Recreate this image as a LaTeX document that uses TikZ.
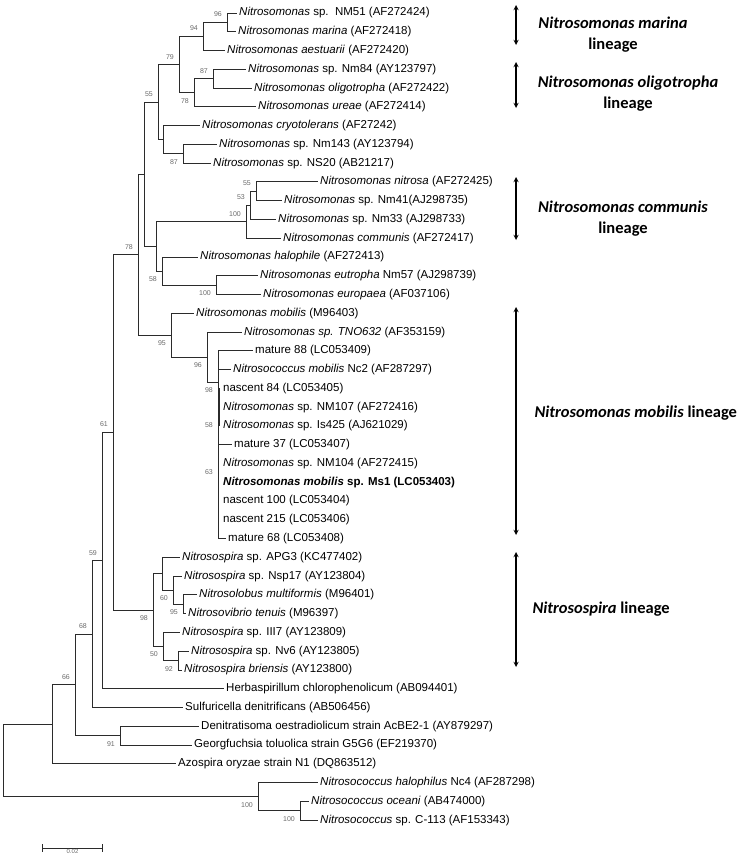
\documentclass[tikz,border=0pt]{standalone}
\usepackage{fontspec}
\setmainfont{Liberation Sans}
\newfontfamily\lineagefont{Carlito}
\usepackage{xcolor}
\usepackage{tikz}
\usetikzlibrary{arrows,positioning,calc}
\definecolor{branchgray}{HTML}{2B2B2B}
\definecolor{bootgray}{HTML}{6A6A6A}

\begin{document}
\begin{tikzpicture}[
  x=1pt, y=-1pt,
  branch/.style={draw=branchgray, line width=0.9pt},
  leaf/.style={anchor=west, inner xsep=2.5pt, inner ysep=0pt, font=\fontsize{11.5}{12}\selectfont},
  zleaf/.style={leaf, inner xsep=5pt},
  bsbase/.style={anchor=east, inner sep=0pt, text=bootgray, font=\fontsize{7}{7}\selectfont},
  bsup/.style={bsbase, xshift=-5pt, yshift=8pt},
  bsdown/.style={bsbase, xshift=-5pt, yshift=-8pt},
  lineage/.style={align=center, font=\lineagefont\bfseries\fontsize{16.5}{21}\selectfont},
  span/.style={<->, >=stealth, line width=1.3pt}
]
\useasboundingbox (0,0) rectangle (742,862);

% leaves
\node[leaf] (l1)  at (236.5,13.0)  {\textit{Nitrosomonas} sp.\ \ NM51 (AF272424)};
\node[leaf] (l2)  at (235.5,31.8)  {\textit{Nitrosomonas marina} (AF272418)};
\node[leaf] (l3)  at (224.5,50.5)  {\textit{Nitrosomonas aestuarii} (AF272420)};
\node[leaf] (l4)  at (245.5,69.3)  {\textit{Nitrosomonas} sp. Nm84 (AY123797)};
\node[leaf] (l5)  at (251.5,88.1)  {\textit{Nitrosomonas oligotropha} (AF272422)};
\node[leaf] (l6)  at (255.5,106.9) {\textit{Nitrosomonas ureae} (AF272414)};
\node[leaf] (l7)  at (199.5,125.6) {\textit{Nitrosomonas cryotolerans} (AF27242)};
\node[leaf] (l8)  at (216.5,144.4) {\textit{Nitrosomonas} sp. Nm143 (AY123794)};
\node[leaf] (l9)  at (210.5,163.2) {\textit{Nitrosomonas} sp. NS20 (AB21217)};
\node[leaf] (l10) at (317.5,181.9) {\textit{Nitrosomonas nitrosa} (AF272425)};
\node[leaf] (l11) at (281.5,200.7) {\textit{Nitrosomonas} sp. Nm41(AJ298735)};
\node[leaf] (l12) at (275.5,219.5) {\textit{Nitrosomonas} sp. Nm33 (AJ298733)};
\node[leaf] (l13) at (280.5,238.2) {\textit{Nitrosomonas communis} (AF272417)};
\node[leaf] (l14) at (197.5,257.0) {\textit{Nitrosomonas halophile} (AF272413)};
\node[leaf] (l15) at (257.5,275.8) {\textit{Nitrosomonas eutropha} Nm57 (AJ298739)};
\node[leaf] (l16) at (260.5,294.6) {\textit{Nitrosomonas europaea} (AF037106)};
\node[leaf] (l17) at (193.5,313.3) {\textit{Nitrosomonas mobilis} (M96403)};
\node[leaf] (l18) at (241.5,332.1) {\textit{Nitrosomonas sp. TNO632} (AF353159)};
\node[leaf] (l19) at (252.5,350.9) {mature 88 (LC053409)};
\node[leaf] (l20) at (230.5,369.6) {\textit{Nitrosococcus mobilis} Nc2 (AF287297)};
\node[zleaf] (l21) at (218,388.4) {nascent 84 (LC053405)};
\node[zleaf] (l22) at (218,407.2) {\textit{Nitrosomonas} sp. NM107 (AF272416)};
\node[zleaf] (l23) at (218,425.9) {\textit{Nitrosomonas} sp. Is425 (AJ621029)};
\node[leaf] (l24) at (231.5,444.7) {mature 37 (LC053407)};
\node[zleaf] (l25) at (218,463.5) {\textit{Nitrosomonas} sp. NM104 (AF272415)};
\node[zleaf] (l26) at (218,482.3) {\textbf{\textit{Nitrosomonas mobilis} sp. Ms1 (LC053403)}};
\node[zleaf] (l27) at (218,501.0) {nascent 100 (LC053404)};
\node[zleaf] (l28) at (218,519.8) {nascent 215 (LC053406)};
\node[leaf] (l29) at (225.5,538.6) {mature 68 (LC053408)};
\node[leaf] (l30) at (179.5,557.3) {\textit{Nitrosospira} sp. APG3 (KC477402)};
\node[leaf] (l31) at (181.5,576.1) {\textit{Nitrosospira} sp. Nsp17 (AY123804)};
\node[leaf] (l32) at (196.5,594.9) {\textit{Nitrosolobus multiformis} (M96401)};
\node[leaf] (l33) at (185.5,613.6) {\textit{Nitrosovibrio tenuis} (M96397)};
\node[leaf] (l34) at (179.5,632.4) {\textit{Nitrosospira} sp. III7 (AY123809)};
\node[leaf] (l35) at (188.5,651.2) {\textit{Nitrosospira} sp. Nv6 (AY123805)};
\node[leaf] (l36) at (181.5,670.0) {\textit{Nitrosospira briensis} (AY123800)};
\node[leaf] (l37) at (223.5,688.7) {Herbaspirillum chlorophenolicum (AB094401)};
\node[leaf] (l38) at (182.5,707.5) {Sulfuricella denitrificans (AB506456)};
\node[leaf] (l39) at (198.5,726.3) {Denitratisoma oestradiolicum strain AcBE2-1 (AY879297)};
\node[leaf] (l40) at (191.5,745.0) {Georgfuchsia toluolica strain G5G6 (EF219370)};
\node[leaf] (l41) at (175.5,763.8) {Azospira oryzae strain N1 (DQ863512)};
\node[leaf] (l42) at (317.5,782.6) {\textit{Nitrosococcus halophilus} Nc4 (AF287298)};
\node[leaf] (l43) at (308.5,801.3) {\textit{Nitrosococcus oceani} (AB474000)};
\node[leaf] (l44) at (317.5,820.1) {\textit{Nitrosococcus} sp. C-113 (AF153343)};

% internal nodes
\coordinate (n96a) at (227,22.4);
\coordinate (n94)  at (203,36.5);
\coordinate (n87a) at (213,78.7);
\coordinate (n78a) at (194,92.8);
\coordinate (n79)  at (179,64.6);
\coordinate (n87b) at (183,153.8);
\coordinate (ncry) at (163,139.7);
\coordinate (n55a) at (158,102.2);
\coordinate (n55b) at (256,191.3);
\coordinate (n53)  at (250,205.4);
\coordinate (n100a) at (246,221.8);
\coordinate (n100b) at (216,285.2);
\coordinate (n58a) at (162,271.1);
\coordinate (nhal) at (156,246.5);
\coordinate (nup)  at (144,174.4);
\coordinate (n58b) at (219.6,407.2);
\coordinate (n63)  at (218,463.5);
\coordinate (n98a) at (218,382.0);
\coordinate (n96b) at (207,357.0);
\coordinate (n95a) at (171,335.2);
\coordinate (n78b) at (138,254.8);
\coordinate (n95b) at (183,604.3);
\coordinate (n60)  at (173,590.2);
\coordinate (napg) at (162,573.8);
\coordinate (n92)  at (178,660.6);
\coordinate (n50)  at (163,646.5);
\coordinate (n98b) at (153,610.2);
\coordinate (n61)  at (113,432.5);
\coordinate (n59)  at (102,560.6);
\coordinate (n68)  at (92,634.0);
\coordinate (n91)  at (120,735.7);
\coordinate (n66)  at (75,684.9);
\coordinate (nazo) at (52,724.3);
\coordinate (n100d) at (300,810.7);
\coordinate (n100c) at (258,796.7);
\coordinate (root) at (3,760.5);

% branches
\draw[branch] (n96a) |- (l1.west) (n96a) |- (l2.west);
\draw[branch] (n94) |- (n96a) (n94) |- (l3.west);
\draw[branch] (n87a) |- (l4.west) (n87a) |- (l5.west);
\draw[branch] (n78a) |- (n87a) (n78a) |- (l6.west);
\draw[branch] (n79) |- (n94) (n79) |- (n78a);
\draw[branch] (n87b) |- (l8.west) (n87b) |- (l9.west);
\draw[branch] (ncry) |- (l7.west) (ncry) |- (n87b);
\draw[branch] (n55a) |- (n79) (n55a) |- (ncry);
\draw[branch] (n55b) |- (l10.west) (n55b) |- (l11.west);
\draw[branch] (n53) |- (n55b) (n53) |- (l12.west);
\draw[branch] (n100a) |- (n53) (n100a) |- (l13.west);
\draw[branch] (n100b) |- (l15.west) (n100b) |- (l16.west);
\draw[branch] (n58a) |- (l14.west) (n58a) |- (n100b);
\draw[branch] (nhal) |- (n100a) (nhal) |- (n58a);
\draw[branch] (nup) |- (n55a) (nup) |- (nhal);
\draw[branch] (n58b) |- (l21.west) (n58b) |- (l23.west);
\draw[branch] (n63) |- (l24.west) (n63) |- (l25.west) (n63) |- (l26.west)
  (n63) |- (l27.west) (n63) |- (l28.west) (n63) |- (l29.west);
\draw[branch] (n98a) |- (l19.west) (n98a) |- (l20.west) (n98a) |- (l22.west)
  (n98a) |- (n58b) (n98a) |- (n63);
\draw[branch] (n96b) |- (l18.west) (n96b) |- (n98a);
\draw[branch] (n95a) |- (l17.west) (n95a) |- (n96b);
\draw[branch] (n78b) |- (nup) (n78b) |- (n95a);
\draw[branch] (n95b) |- (l32.west) (n95b) |- (l33.west);
\draw[branch] (n60) |- (l31.west) (n60) |- (n95b);
\draw[branch] (napg) |- (l30.west) (napg) |- (n60);
\draw[branch] (n92) |- (l35.west) (n92) |- (l36.west);
\draw[branch] (n50) |- (l34.west) (n50) |- (n92);
\draw[branch] (n98b) |- (napg) (n98b) |- (n50);
\draw[branch] (n61) |- (n78b) (n61) |- (n98b);
\draw[branch] (n59) |- (n61) (n59) |- (l37.west);
\draw[branch] (n68) |- (n59) (n68) |- (l38.west);
\draw[branch] (n91) |- (l39.west) (n91) |- (l40.west);
\draw[branch] (n66) |- (n68) (n66) |- (n91);
\draw[branch] (nazo) |- (n66) (nazo) |- (l41.west);
\draw[branch] (n100d) |- (l43.west) (n100d) |- (l44.west);
\draw[branch] (n100c) |- (l42.west) (n100c) |- (n100d);
\draw[branch] (root) |- (nazo) (root) |- (n100c);

% bootstrap values
\node[bsup]   (b1)  at (n96a)  {96};
\node[bsup]   (b2)  at (n94)   {94};
\node[bsup]   (b3)  at (n79)   {79};
\node[bsup]   (b4)  at (n87a)  {87};
\node[bsdown] (b5)  at (n78a)  {78};
\node[bsup]   (b6)  at (n55a)  {55};
\node[bsdown] (b7)  at (n87b)  {87};
\node[bsup]   (b8)  at (n55b)  {55};
\node[bsup]   (b9)  at (n53)   {53};
\node[bsup]   (b10) at (n100a) {100};
\node[bsdown] (b11) at (n58a)  {58};
\node[bsdown] (b12) at (n100b) {100};
\node[bsup]   (b13) at (n78b)  {78};
\node[bsdown] (b14) at (n95a)  {95};
\node[bsdown] (b15) at (n96b)  {96};
\node[bsdown] (b16) at (n98a)  {98};
\node[bsdown] (b17) at (218,417) {58};
\node[bsdown] (b18) at (218,464) {63};
\node[bsup]   (b19) at (n61)   {61};
\node[bsup]   (b20) at (n59)   {59};
\node[bsup]   (b21) at (n68)   {68};
\node[bsup]   (b22) at (n66)   {66};
\node[bsdown] (b23) at (n91)   {91};
\node[bsdown] (b24) at (n98b)  {98};
\node[bsdown] (b25) at (n60)   {60};
\node[bsdown] (b26) at (n95b)  {95};
\node[bsdown] (b27) at (n50)   {50};
\node[bsdown] (b28) at (n92)   {92};
\node[bsdown] (b29) at (n100c) {100};
\node[bsdown] (b30) at (n100d) {100};

% lineage brackets
\coordinate (mart) at (516,5);   \coordinate (marb) at (516,45);
\coordinate (olit) at (516,62);  \coordinate (olib) at (516,108);
\coordinate (comt) at (516,177); \coordinate (comb) at (516,240);
\coordinate (mobt) at (516,307); \coordinate (mobb) at (516,535);
\coordinate (spit) at (516,552); \coordinate (spib) at (516,667);
\draw[span] (mart) -- (marb);
\draw[span] (olit) -- (olib);
\draw[span] (comt) -- (comb);
\draw[span] (mobt) -- (mobb);
\draw[span] (spit) -- (spib);
\node[lineage] (marina) at (613,35)   {\itshape Nitrosomonas marina\\lineage};
\node[lineage] (oligo)  at (628,93.5) {\itshape Nitrosomonas oligotropha\\lineage};
\node[lineage] (commun) at (623,218.5) {\itshape Nitrosomonas communis\\lineage};
\node[lineage, anchor=west] (mobil) at (531,413) {\textit{Nitrosomonas mobilis} lineage};
\node[lineage, anchor=west] (spira) at (529,609) {\textit{Nitrosospira} lineage};

% scale bar
\coordinate (sbl) at (42,848);
\coordinate (sbr) at (103,848);
\draw[branchgray, line width=0.9pt, |-|] (sbl) -- (sbr);
\node[below=1pt of $(sbl)!0.5!(sbr)$, inner sep=0pt, font=\fontsize{6}{7}\selectfont, text=bootgray] (sbtext) {0.02};

\end{tikzpicture}
\end{document}
